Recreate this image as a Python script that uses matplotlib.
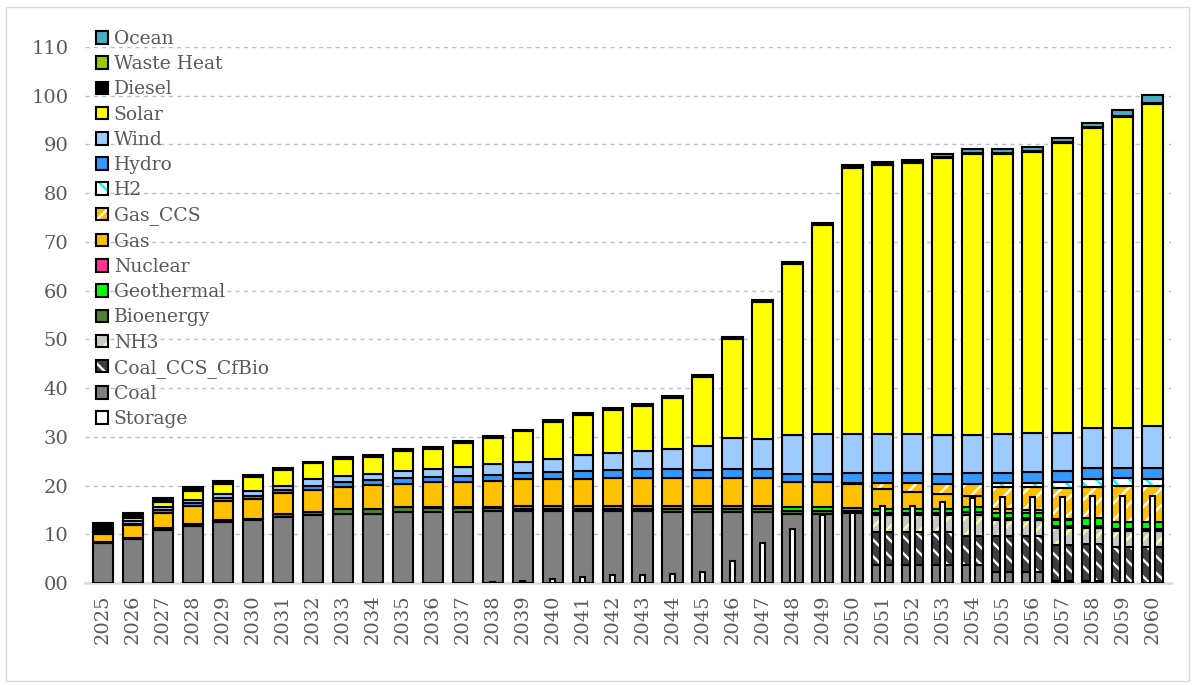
import numpy as np
import matplotlib.pyplot as plt
from matplotlib.patches import Patch, Rectangle

years = ["2025", "2026", "2027", "2028", "2029", "2030", "2031", "2032", "2033",
         "2034", "2035", "2036", "2037", "2038", "2039", "2040", "2041", "2042",
         "2043", "2044", "2045", "2046", "2047", "2048", "2049", "2050", "2051",
         "2052", "2053", "2054", "2055", "2056", "2057", "2058", "2059", "2060"]

coal = [8.2, 9.0, 10.9, 11.8, 12.5, 12.9, 13.6, 13.9, 14.2, 14.2,
        14.6, 14.6, 14.6, 14.7, 14.7, 14.7, 14.7, 14.7, 14.7, 14.6,
        14.6, 14.6, 14.6, 14.1, 14.1, 14.4, 3.7, 3.7, 3.7, 3.6,
        2.3, 2.3, 0.5, 0.4, 0.0, 0.0]
coal_ccs = [0, 0, 0, 0, 0, 0, 0, 0, 0, 0, 0, 0, 0, 0, 0, 0, 0, 0, 0, 0,
            0, 0, 0, 0, 0, 0, 6.8, 6.8, 6.8, 6.0, 7.4, 7.4, 7.4, 7.6, 7.3, 7.3]
nh3 = [0, 0, 0, 0, 0, 0, 0, 0, 0, 0, 0, 0, 0, 0, 0, 0, 0, 0, 0, 0,
       0, 0, 0, 0, 0, 0, 3.5, 3.5, 3.5, 4.4, 3.2, 3.2, 3.3, 3.3, 3.3, 3.3]
bio = [0.3, 0.3, 0.3, 0.3, 0.4, 0.3, 0.6, 0.7, 0.9, 0.9,
       0.9, 0.8, 0.7, 0.6, 0.5, 0.5, 0.5, 0.5, 0.5, 0.5,
       0.5, 0.5, 0.5, 0.6, 0.6, 0.3, 0.4, 0.4, 0.4, 0.5,
       0.4, 0.4, 0.5, 0.5, 0.5, 0.5]
geo = [0, 0, 0, 0, 0, 0, 0, 0, 0, 0,
       0, 0.2, 0.3, 0.3, 0.5, 0.5, 0.5, 0.6, 0.6, 0.7,
       0.7, 0.7, 0.7, 0.8, 0.8, 0.7, 0.8, 0.8, 0.8, 1.1,
       1.1, 1.1, 1.3, 1.5, 1.5, 1.5]
nuclear = [0] * 36
gas = [1.5, 2.6, 3.2, 3.8, 3.9, 4.1, 4.2, 4.5, 4.6, 5.0,
       4.9, 5.1, 5.2, 5.4, 5.6, 5.6, 5.7, 5.8, 5.8, 5.8,
       5.8, 5.8, 5.7, 5.3, 5.2, 4.9, 4.1, 3.5, 3.0, 2.2,
       0.8, 0.6, 0.2, 0, 0, 0]
gas_ccs = [0, 0, 0, 0, 0, 0, 0, 0, 0, 0, 0, 0, 0, 0, 0, 0, 0, 0, 0, 0,
           0, 0, 0, 0, 0, 0.3, 1.2, 1.8, 2.2, 2.6, 4.4, 4.6, 6.3, 6.5, 7.4, 7.4]
h2 = [0, 0, 0, 0, 0, 0, 0, 0, 0, 0, 0, 0, 0, 0, 0, 0, 0, 0, 0, 0,
      0, 0, 0, 0, 0, 0, 0, 0, 0, 0, 1.0, 1.0, 1.3, 1.5, 1.5, 1.4]
hydro = [0.2, 0.3, 0.5, 0.5, 0.6, 0.6, 0.6, 0.9, 1.0, 1.0,
         1.1, 1.0, 1.1, 1.2, 1.2, 1.4, 1.5, 1.6, 1.7, 1.7,
         1.6, 1.8, 1.8, 1.5, 1.6, 1.9, 2.0, 2.0, 2.0, 2.1,
         2.0, 2.1, 2.2, 2.4, 2.1, 2.2]
wind = [0.2, 0.5, 0.6, 0.6, 0.8, 0.9, 0.9, 1.3, 1.2, 1.3,
        1.4, 1.6, 2.0, 2.2, 2.4, 2.7, 3.3, 3.4, 3.7, 4.1,
        5.0, 6.4, 6.3, 8.0, 8.2, 8.1, 8.0, 8.1, 7.9, 7.8,
        7.9, 8.0, 7.8, 8.2, 8.2, 8.6]
solar = [0.3, 0.7, 1.2, 1.9, 2.2, 2.9, 3.2, 3.3, 3.5, 3.5,
         4.1, 4.2, 4.8, 5.3, 6.2, 7.6, 8.3, 9.0, 9.4, 10.5,
         14.1, 20.2, 28.1, 35.1, 42.9, 54.6, 55.3, 55.6, 56.9, 57.8,
         57.6, 57.7, 59.5, 61.4, 63.9, 66.2]
diesel = [1.7, 1.0, 0.8, 0.8, 0.6, 0.5, 0.4, 0.3, 0.4, 0.3,
          0.4, 0.4, 0.4, 0.4, 0.4, 0.4, 0.3, 0.3, 0.4, 0.4,
          0.3, 0.4, 0.4, 0.4, 0.4, 0.2, 0.2, 0.2, 0.2, 0.2,
          0.2, 0.2, 0.2, 0.2, 0.2, 0.2]
waste_heat = [0] * 36
ocean = [0, 0, 0, 0, 0, 0, 0, 0, 0, 0, 0, 0, 0, 0, 0, 0, 0, 0, 0, 0,
         0, 0, 0, 0, 0, 0.4, 0.4, 0.5, 0.6, 0.7, 0.8, 0.8, 0.9, 1.0, 1.2, 1.5]
storage = [0, 0, 0, 0, 0, 0, 0, 0, 0, 0,
           0, 0.1, 0.1, 0.3, 0.5, 0.9, 1.3, 1.6, 1.7, 1.9,
           2.2, 4.5, 8.2, 11.0, 13.9, 14.4, 15.8, 15.9, 16.7, 17.5,
           17.7, 17.7, 17.7, 17.8, 17.8, 17.8]

# (label, values, face colour, hatch, hatch colour) -- bottom to top
series = [
    ("Coal", coal, "#808080", None, None),
    ("Coal_CCS_CfBio", coal_ccs, "#3F3F3F", "\\\\", "white"),
    ("NH3", nh3, "#C8C8C8", "//", "#FFFF99"),
    ("Bioenergy", bio, "#548235", None, None),
    ("Geothermal", geo, "#00FF00", None, None),
    ("Nuclear", nuclear, "#FF3399", None, None),
    ("Gas", gas, "#FFC000", None, None),
    ("Gas_CCS", gas_ccs, "#FFC000", "//", "white"),
    ("H2", h2, "white", "\\\\", "#00FFFF"),
    ("Hydro", hydro, "#3399FF", None, None),
    ("Wind", wind, "#9DCBFF", None, None),
    ("Solar", solar, "#FFFF00", None, None),
    ("Diesel", diesel, "#000000", None, None),
    ("Waste Heat", waste_heat, "#99CC00", None, None),
    ("Ocean", ocean, "#4BACC6", None, None),
]

TXT = "#595959"
plt.rcParams["font.family"] = ["DejaVu Serif"]
plt.rcParams["hatch.linewidth"] = 1.7

W, H = 1195, 685
fig = plt.figure(figsize=(W / 100, H / 100), dpi=100)
ax = fig.add_axes([85 / W, 1 - 583 / H, (1171 - 85) / W, (583 - 47) / H])

x = np.arange(len(years))
bw = 0.68
bottom = np.zeros(len(years))
for name, vals, fc, hatch, hc in series:
    v = np.array(vals, dtype=float)
    m = v > 0
    if m.any():
        if hatch:
            ax.bar(x[m], v[m], bw, bottom=bottom[m], color=fc, hatch=hatch,
                   edgecolor=hc, linewidth=0, zorder=3)
            ax.bar(x[m], v[m], bw, bottom=bottom[m], fill=False,
                   edgecolor="black", linewidth=1.5, zorder=3)
        else:
            ax.bar(x[m], v[m], bw, bottom=bottom[m], color=fc,
                   edgecolor="black", linewidth=1.5, zorder=3)
    bottom += v

st = np.array(storage, dtype=float)
ms = st > 0
ax.bar(x[ms], st[ms], 0.17, color="white", edgecolor="black",
       linewidth=1.5, zorder=4)

ax.set_xlim(-0.6, len(years) - 1 + 0.62)
ax.set_ylim(0, 110)
ax.set_yticks(np.arange(0, 111, 10))
ax.set_yticklabels([f"{v:02d}" for v in range(0, 111, 10)])
ax.set_xticks(x)
ax.set_xticklabels(years, rotation=90)
ax.tick_params(axis="both", length=0, labelsize=14, colors=TXT)
ax.tick_params(axis="y", pad=12)
ax.tick_params(axis="x", pad=8)
ax.grid(axis="y", color="#BFBFBF", linestyle=(0, (3, 3)), linewidth=1.0, zorder=0)
ax.set_axisbelow(True)
for s in ["top", "right", "left"]:
    ax.spines[s].set_visible(False)
ax.spines["bottom"].set_color("#D9D9D9")
ax.spines["bottom"].set_linewidth(1.8)

# legend, top entry first
handles, labels = [], []
for name, vals, fc, hatch, hc in series[::-1]:
    if hatch:
        h = (Patch(facecolor=fc, hatch=hatch, edgecolor=hc, linewidth=0),
             Patch(fill=False, edgecolor="black", linewidth=1.5))
    else:
        h = Patch(facecolor=fc, edgecolor="black", linewidth=1.5)
    handles.append(h)
    labels.append(name)
handles.append(Patch(facecolor="white", edgecolor="black", linewidth=1.5))
labels.append("Storage")

leg = fig.legend(handles, labels, loc="upper left",
                 bbox_to_anchor=(96 / W, 1 - 30 / H), frameon=False,
                 fontsize=13.5, labelcolor=TXT, handlelength=0.65,
                 handleheight=0.65, handletextpad=0.3, labelspacing=0.385,
                 borderpad=0, borderaxespad=0)

fig.patches.append(Rectangle((6 / W, 4 / H), (W - 12) / W, (H - 11) / H,
                             transform=fig.transFigure, fill=False,
                             edgecolor="#D9D9D9", linewidth=1.0))

fig.savefig("out.png", dpi=100)
